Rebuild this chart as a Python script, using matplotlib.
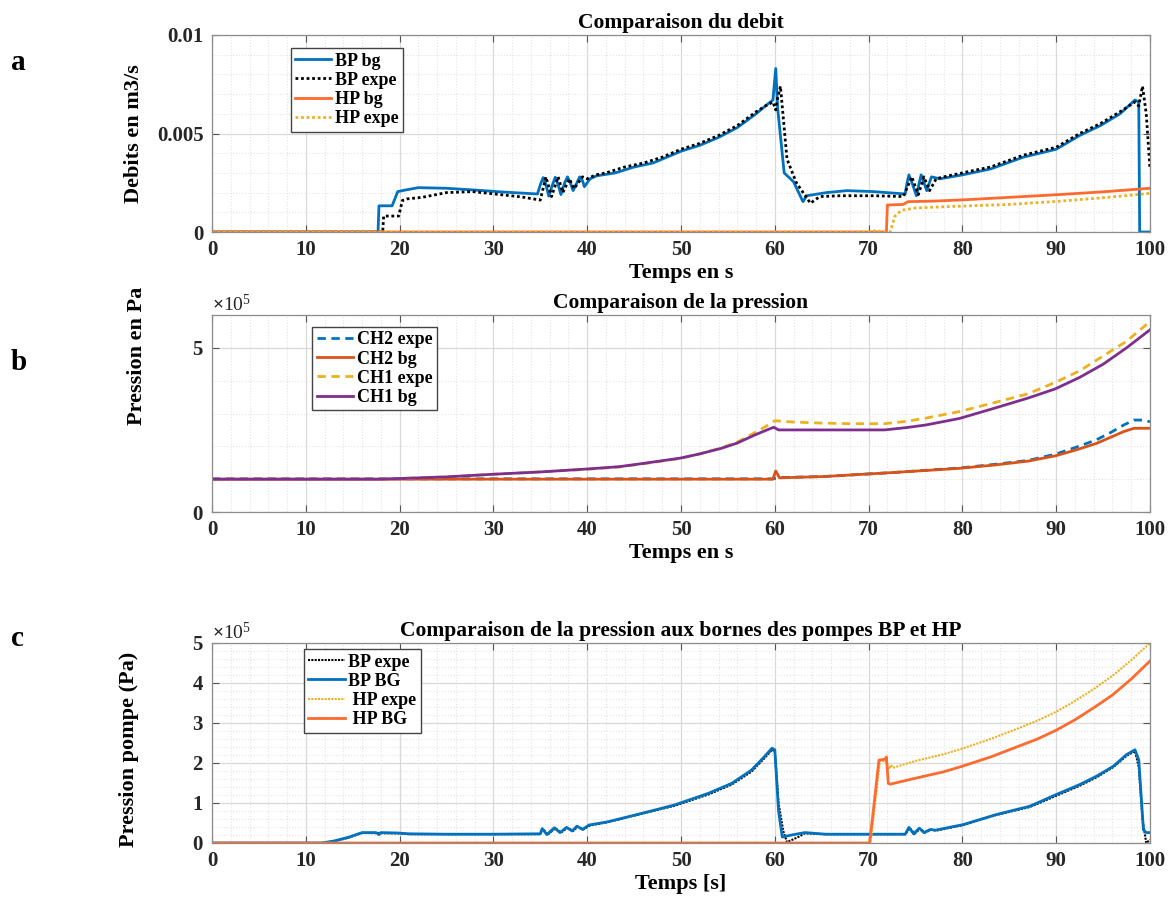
import numpy as np
import matplotlib

matplotlib.use("Agg")
import matplotlib.pyplot as plt
from matplotlib.ticker import MultipleLocator, FuncFormatter

plt.rcParams["font.family"] = ["Liberation Serif", "DejaVu Serif"]
plt.rcParams["font.weight"] = "bold"
plt.rcParams["mathtext.fontset"] = "custom"
plt.rcParams["mathtext.rm"] = "Liberation Serif"
plt.rcParams["mathtext.it"] = "Liberation Serif:italic"

PA = 1e5  # pressure values below are read in units of 1e5 Pa

# ---------------- panel a : flow rates (m3/s) ----------------
t_a_bp_bg = [0, 17.7, 17.8, 19.2, 19.8, 20.5, 22.0, 25.0, 28.0, 31.0, 34.7, 35.0, 35.3, 35.6,
             35.9, 36.3, 36.6, 36.9, 37.2, 37.6, 37.9, 38.2, 38.5, 38.9, 39.2, 39.5, 39.7,
             40.0, 40.3, 41.0, 43.0, 45.0, 47.0, 50.0, 52.0, 54.0, 56.0, 58.0, 59.0, 59.8,
             60.1, 60.3, 61.0, 62.0, 63.0, 63.4, 65.5, 67.7, 70.5, 73.9, 74.1, 74.3, 74.7,
             75.1, 75.4, 75.6, 75.9, 76.2, 76.7, 77.6, 80.0, 83.0, 86.5, 90.0, 92.5, 94.7,
             96.8, 98.4, 98.8, 98.9, 100]
q_a_bp_bg = [0, 0, 0.00133, 0.00133, 0.00205, 0.00212, 0.00225, 0.00222, 0.00213, 0.00203,
             0.00193, 0.0024, 0.00276, 0.0024, 0.00182, 0.0024, 0.00278, 0.0024, 0.0019,
             0.0025, 0.0028, 0.0025, 0.0021, 0.0025, 0.0028, 0.0026, 0.0023, 0.0025, 0.0027,
             0.00285, 0.0030, 0.0033, 0.0035, 0.0041, 0.0044, 0.0048, 0.0053, 0.0060, 0.0064,
             0.0067, 0.0083, 0.0063, 0.0030, 0.00255, 0.00154, 0.00184, 0.0020, 0.0021,
             0.00205, 0.00193, 0.0025, 0.0029, 0.0024, 0.00184, 0.0025, 0.0029, 0.0025, 0.0021,
             0.0028, 0.0027, 0.0029, 0.0032, 0.0038, 0.0042, 0.0049, 0.0054, 0.0060, 0.0067,
             0.0066, 0.0, 0.0]

t_a_bp_exp = [0, 18.2, 18.3, 19.9, 20.3, 20.8, 22.4, 25.0, 27.8, 30.7, 33.0, 35.0, 35.6, 36.2,
              36.9, 37.4, 38.1, 38.6, 39.5, 40.0, 40.9, 42.0, 44.0, 46.0, 48.0, 50.0, 52.0,
              54.0, 56.0, 58.0, 59.0, 59.8, 60.1, 60.3, 60.6, 61.3, 62.3, 63.8, 64.8, 66.9,
              70.5, 73.7, 74.6, 75.3, 75.9, 76.5, 77.2, 78.0, 80.0, 83.0, 86.5, 90.0, 92.5,
              94.7, 96.8, 98.4, 98.8, 99.2, 99.6, 100]
q_a_bp_exp = [0, 0, 0.00081, 0.00081, 0.0016, 0.00168, 0.00176, 0.0020, 0.00205, 0.0019,
              0.00178, 0.00162, 0.0028, 0.0018, 0.0028, 0.0020, 0.0027, 0.0022, 0.0028, 0.0027,
              0.0029, 0.0030, 0.0033, 0.0035, 0.0038, 0.0042, 0.0045, 0.0049, 0.0054, 0.0061,
              0.0064, 0.0066, 0.0062, 0.0068, 0.0074, 0.0037, 0.0025, 0.00146, 0.0018, 0.00184,
              0.00184, 0.0018, 0.0028, 0.0019, 0.0028, 0.0021, 0.0027, 0.0028, 0.0030, 0.0033,
              0.0039, 0.0043, 0.0050, 0.0055, 0.0061, 0.0066, 0.0064, 0.0074, 0.0060, 0.0032]

t_a_hp_bg = [0, 71.9, 72.0, 73.7, 74.2, 77.0, 80, 85, 90, 95, 100]
q_a_hp_bg = [0, 0, 0.00137, 0.0014, 0.00154, 0.00157, 0.00163, 0.00176, 0.00189, 0.00204, 0.00222]

t_a_hp_exp = [0, 70.4, 70.8, 71.3, 72.3, 72.8, 73.5, 75.0, 78.0, 85, 90, 95, 100]
q_a_hp_exp = [0, 0, 0.0001, 0, 0, 0.0008, 0.0011, 0.00122, 0.00128, 0.0014, 0.00155, 0.00174, 0.00196]

# ---------------- panel b : chamber pressures ----------------
t_b_ch1_bg = [0, 18, 25, 30, 35, 40, 43.4, 46, 49.9, 52, 54.3, 56, 57.9, 59.6, 59.9, 60.4,
              71.7, 74, 76.1, 79.7, 83.4, 87, 89.9, 92.5, 95, 97.5, 100]
p_b_ch1_bg = [1.0, 1.0, 1.07, 1.15, 1.22, 1.31, 1.38, 1.48, 1.64, 1.77, 1.94, 2.1, 2.35, 2.55,
              2.58, 2.5, 2.5, 2.57, 2.65, 2.85, 3.16, 3.47, 3.75, 4.1, 4.5, 5.0, 5.55]

t_b_ch1_exp = [0, 18, 25, 30, 35, 40, 43.4, 46, 49.9, 52, 54.3, 56, 57.9, 59.3, 60.0, 62, 64.8,
               68, 71.7, 74, 76.1, 79.7, 83.4, 87, 90, 92.5, 95, 97.5, 100]
p_b_ch1_exp = [1.0, 1.0, 1.07, 1.15, 1.22, 1.3, 1.37, 1.47, 1.63, 1.77, 1.95, 2.13, 2.42, 2.65,
               2.78, 2.74, 2.71, 2.69, 2.69, 2.76, 2.86, 3.06, 3.33, 3.6, 3.96, 4.3, 4.75, 5.2, 5.8]

t_b_ch2_bg = [0, 59.8, 60.1, 60.5, 65.2, 72.5, 79.7, 83.4, 87.0, 89.9, 92, 94.3, 96, 97.2, 98.3, 100]
p_b_ch2_bg = [1.0, 1.0, 1.25, 1.04, 1.08, 1.2, 1.33, 1.43, 1.55, 1.71, 1.88, 2.09, 2.3, 2.45, 2.55, 2.55]

t_b_ch2_exp = [0, 59.8, 60.5, 65.2, 72.5, 79.7, 83.4, 87.0, 89.9, 92, 94.3, 96, 97.2, 98.3, 99.2, 100]
p_b_ch2_exp = [1.01, 1.01, 1.05, 1.08, 1.2, 1.34, 1.45, 1.57, 1.76, 1.96, 2.2, 2.45, 2.65, 2.8, 2.8, 2.75]

# ---------------- panel c : pump pressures ----------------
t_c_bp_bg = [0, 11.7, 13, 14.5, 16.0, 17.5, 17.8, 18, 19.8, 21.0, 25, 30, 35.0, 35.2, 35.7,
             36.5, 37.1, 37.8, 38.4, 38.9, 39.5, 40.2, 42.2, 45.8, 49.3, 52.9, 55.4, 57.5,
             58.9, 59.7, 60.0, 60.4, 60.8, 61.8, 63.2, 65.4, 70, 73.9, 74.3, 74.8, 75.4, 75.9,
             76.6, 77.1, 80.1, 83.6, 87.2, 90, 92.5, 94.3, 96.1, 97.5, 98.4, 98.8, 99.3, 99.6, 100]
p_c_bp_bg = [0, 0, 0.05, 0.14, 0.26, 0.26, 0.21, 0.26, 0.25, 0.23, 0.22, 0.22, 0.23, 0.36, 0.21,
             0.38, 0.26, 0.39, 0.3, 0.42, 0.34, 0.45, 0.53, 0.74, 0.95, 1.24, 1.49, 1.82, 2.16,
             2.37, 2.33, 0.8, 0.15, 0.2, 0.26, 0.22, 0.22, 0.22, 0.39, 0.23, 0.37, 0.26, 0.34,
             0.32, 0.46, 0.71, 0.92, 1.21, 1.46, 1.67, 1.92, 2.21, 2.33, 2.08, 0.33, 0.26, 0.26]

t_c_bp_exp = [0, 11.7, 13, 14.5, 16.0, 19.8, 21.0, 30, 35.0, 35.3, 35.8, 36.6, 37.2, 37.9, 38.5,
              39.0, 39.6, 40.3, 42.2, 45.8, 49.3, 52.9, 55.4, 57.5, 58.9, 59.7, 60.0, 60.4, 60.9,
              61.3, 62.5, 63.2, 65.4, 70, 73.9, 74.4, 74.9, 75.5, 76.0, 76.7, 77.2, 80.1, 83.6,
              87.2, 90, 92.5, 94.3, 96.1, 97.5, 98.4, 98.8, 99.2, 99.6, 100]
p_c_bp_exp = [0, 0, 0.04, 0.13, 0.25, 0.24, 0.22, 0.22, 0.22, 0.35, 0.21, 0.37, 0.26, 0.38, 0.3,
              0.41, 0.34, 0.44, 0.52, 0.73, 0.93, 1.21, 1.46, 1.78, 2.12, 2.33, 2.3, 1.0, 0.3,
              0.02, 0.15, 0.24, 0.22, 0.22, 0.22, 0.37, 0.23, 0.36, 0.26, 0.33, 0.31, 0.45, 0.7,
              0.9, 1.18, 1.43, 1.64, 1.9, 2.18, 2.3, 1.9, 0.6, 0.0, 0.08]

t_c_hp_bg = [0, 70.1, 70.5, 71.1, 71.8, 71.9, 72.1, 72.3, 75, 78, 80, 83, 86, 88, 90, 92, 94, 96, 98, 100]
p_c_hp_bg = [0, 0, 0.8, 2.07, 2.1, 2.15, 1.49, 1.47, 1.62, 1.78, 1.92, 2.15, 2.42, 2.6, 2.82,
             3.08, 3.38, 3.7, 4.1, 4.55]

t_c_hp_exp = [0, 70.2, 70.6, 71.2, 71.8, 72.0, 72.2, 72.4, 72.6, 75, 78, 80, 83, 86, 88, 90, 92,
              94, 96, 98, 100]
p_c_hp_exp = [0, 0, 0.8, 2.05, 2.05, 1.95, 1.85, 1.95, 1.88, 2.05, 2.22, 2.36, 2.6, 2.87, 3.06,
              3.28, 3.55, 3.85, 4.18, 4.57, 5.0]

BLUE = "#0072BD"
ORANGE = "#FF6A2E"
RED = "#D95319"
YELLOW = "#EDB120"
PURPLE = "#7E2F8E"

W, H = 1176, 901
LEFT, RIGHT = 212, 1150


def rect(top, bottom):
    return [LEFT / W, 1 - bottom / H, (RIGHT - LEFT) / W, (bottom - top) / H]


def style_axes(ax, ymax, ymajor, yminor):
    ax.set_xlim(0, 100)
    ax.set_ylim(0, ymax)
    ax.xaxis.set_major_locator(MultipleLocator(10))
    ax.xaxis.set_minor_locator(MultipleLocator(2))
    ax.yaxis.set_major_locator(MultipleLocator(ymajor))
    ax.yaxis.set_minor_locator(MultipleLocator(yminor))
    ax.grid(True, which="major", color="#d9d9d9", lw=0.9)
    ax.grid(True, which="minor", color="#e4e4e4", lw=0.8, ls=":")
    ax.set_axisbelow(True)
    ax.tick_params(which="major", direction="in", length=5, width=0.8, top=True, right=True,
                   color="#555555", labelsize=15, labelcolor="#262626", pad=6)
    ax.tick_params(which="minor", length=0)
    for s in ax.spines.values():
        s.set_color("#8c8c8c")
        s.set_linewidth(0.9)


fig = plt.figure(figsize=(W / 100, H / 100), dpi=100)

leg_kw = dict(fontsize=13, frameon=True, fancybox=False, framealpha=1, edgecolor="#444444",
              handlelength=2.0, handletextpad=0.2, labelspacing=0.12, borderpad=0.25,
              borderaxespad=0)

# --- a ---
ax = fig.add_axes(rect(35, 232))
ax.plot(t_a_bp_bg, q_a_bp_bg, color=BLUE, lw=2, label="BP bg")
ax.plot(t_a_bp_exp, q_a_bp_exp, color="black", lw=2, ls=(0, (1, 1)), label="BP expe")
ax.plot(t_a_hp_bg, q_a_hp_bg, color=ORANGE, lw=2, label="HP bg")
ax.plot(t_a_hp_exp, q_a_hp_exp, color=YELLOW, lw=2, ls=(0, (1, 1)), label="HP expe")
style_axes(ax, 0.01, 0.005, 0.001)
ax.yaxis.set_major_formatter(FuncFormatter(lambda v, _: f"{v:g}"))
ax.set_title("Comparaison du debit", fontsize=15.5, fontweight="bold", pad=5)
ax.set_xlabel("Temps en s", fontsize=16, fontweight="bold", labelpad=2)
ax.set_ylabel("Debits en m3/s", fontsize=16, fontweight="bold")
ax.yaxis.set_label_coords(-0.073, 0.5)
ax.legend(loc="upper left", bbox_to_anchor=(0.084, 0.934), **leg_kw)

# --- b ---
ax = fig.add_axes(rect(315, 512))
ax.plot(t_b_ch2_exp, np.array(p_b_ch2_exp) * PA, color=BLUE, lw=2, ls=(0, (3, 2)), label="CH2 expe")
ax.plot(t_b_ch2_bg, np.array(p_b_ch2_bg) * PA, color=RED, lw=2, label="CH2 bg")
ax.plot(t_b_ch1_exp, np.array(p_b_ch1_exp) * PA, color=YELLOW, lw=2, ls=(0, (3, 2)), label="CH1 expe")
ax.plot(t_b_ch1_bg, np.array(p_b_ch1_bg) * PA, color=PURPLE, lw=2, label="CH1 bg")
style_axes(ax, 6 * PA, 5 * PA, 1 * PA)
ax.ticklabel_format(axis="y", style="sci", scilimits=(0, 0), useMathText=True)
ax.yaxis.get_offset_text().set_fontsize(14)
ax.yaxis.get_offset_text().set_fontweight("normal")
ax.set_title("Comparaison de la pression", fontsize=15.5, fontweight="bold", pad=5)
ax.set_xlabel("Temps en s", fontsize=16, fontweight="bold", labelpad=2)
ax.set_ylabel("Pression en Pa", fontsize=16, fontweight="bold")
ax.yaxis.set_label_coords(-0.069, 0.79)
ax.legend(loc="upper left", bbox_to_anchor=(0.107, 0.94), **leg_kw)

# --- c ---
ax = fig.add_axes(rect(643, 843))
ax.plot(t_c_bp_exp, np.array(p_c_bp_exp) * PA, color="black", lw=1.5, ls=(0, (1, 0.6)), label="BP expe")
ax.plot(t_c_bp_bg, np.array(p_c_bp_bg) * PA, color=BLUE, lw=2, label="BP BG")
ax.plot(t_c_hp_exp, np.array(p_c_hp_exp) * PA, color=YELLOW, lw=1.5, ls=(0, (1, 0.6)), label=" HP expe")
ax.plot(t_c_hp_bg, np.array(p_c_hp_bg) * PA, color=ORANGE, lw=2, label=" HP BG")
style_axes(ax, 5 * PA, 1 * PA, 0.2 * PA)
ax.ticklabel_format(axis="y", style="sci", scilimits=(0, 0), useMathText=True)
ax.yaxis.get_offset_text().set_fontsize(14)
ax.yaxis.get_offset_text().set_fontweight("normal")
ax.set_title("Comparaison de la pression aux bornes des pompes BP et HP", fontsize=15.5,
             fontweight="bold", pad=5)
ax.set_xlabel("Temps [s]", fontsize=16, fontweight="bold", labelpad=2)
ax.set_ylabel("Pression pompe (Pa)", fontsize=16, fontweight="bold")
ax.yaxis.set_label_coords(-0.078, 0.47)
ax.legend(loc="upper left", bbox_to_anchor=(0.098, 0.97), **leg_kw)

for lab, y in [("a", 62), ("b", 362), ("c", 638)]:
    fig.text(11 / W, 1 - y / H, lab, fontsize=21, fontweight="bold", ha="left", va="center")

fig.savefig("out.png", dpi=100)
